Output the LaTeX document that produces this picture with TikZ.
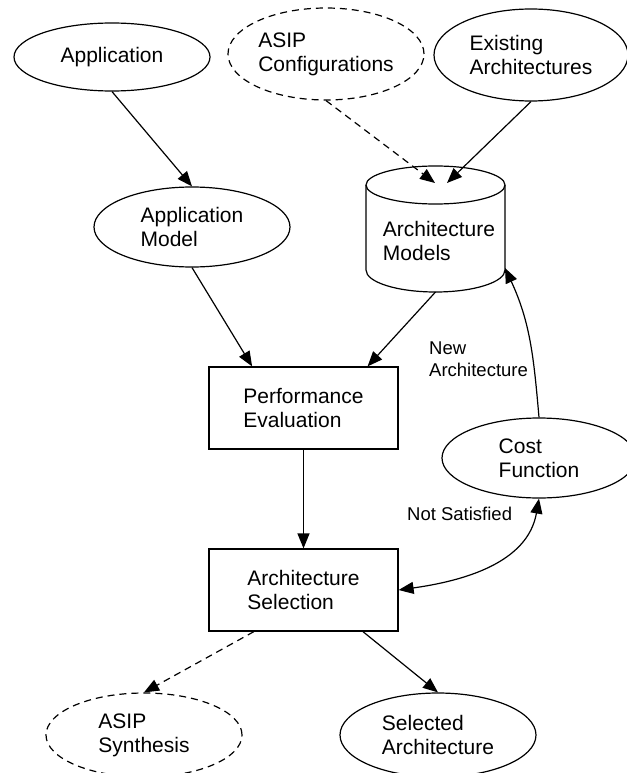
\documentclass[tikz,border=0pt]{standalone}
\usepackage{fontspec}
\setmainfont{Liberation Sans}
\usetikzlibrary{arrows.meta,shapes.geometric}
\tikzset{
  flow line/.style={draw=black, line width=1.2pt},
  flow tip/.style={-{Triangle[length=15pt,width=12pt]}},
  flow arrow/.style={flow line, flow tip},
  flow both/.style={flow line, {Triangle[length=15pt,width=12pt]}-{Triangle[length=15pt,width=12pt]}},
  flow dashed/.style={dash pattern=on 7pt off 5pt},
  flow text/.style={align=left, inner sep=0pt, font=\fontsize{21}{24}\selectfont},
  flow oval/.style={ellipse, flow line, flow text},
  flow box/.style={rectangle, flow line, flow text, minimum width=189pt, minimum height=82pt},
  flow label/.style={align=left, inner sep=0pt, font=\fontsize{18.5}{22}\selectfont},
}

\begin{document}
\begin{tikzpicture}[x=1pt, y=1pt]
  \useasboundingbox (0,0) rectangle (626,-773);

  % Inputs
  \node[flow oval, minimum width=196pt, minimum height=68pt] (app) at (112,-57) {Application};
  \node[flow oval, flow dashed, minimum width=196pt, minimum height=92pt] (asipcfg) at (326,-54) {ASIP\\Configurations};
  \node[flow oval, minimum width=194pt, minimum height=92pt] (existing) at (531,-55) {Existing\\Architectures};

  % Models
  \node[flow oval, minimum width=196pt, minimum height=80pt] (appmodel) at (192,-227) {Application\\Model};

  \draw[flow line] (435.5,-185) ellipse [x radius=69.5pt, y radius=19pt];
  \draw[flow line] (366,-185) -- (366,-270) arc[start angle=180, end angle=360, x radius=69.5pt, y radius=22pt] -- (505,-185);
  \node[flow text] (models) at (439,-241) {Architecture\\Models};
  \coordinate (modelsinA) at (435,-183);
  \coordinate (modelsinB) at (447,-183);
  \coordinate (modelsfoot) at (435.5,-292);
  \coordinate (modelscorner) at (505,-268);

  % Evaluation and selection
  \node[flow box] (perf) at (303.5,-408) {Performance\\Evaluation};
  \node[flow box] (select) at (303.5,-590) {Architecture\\Selection};
  \node[flow oval, minimum width=194pt, minimum height=80pt] (cost) at (539,-458) {Cost\\Function};

  % Outputs
  \node[flow oval, flow dashed, minimum width=196pt, minimum height=84pt] (synth) at (144,-735) {ASIP\\Synthesis};
  \node[flow oval, minimum width=196pt, minimum height=84pt] (chosen) at (438,-735) {Selected\\Architecture};

  % Connectors
  \draw[flow arrow] (app.south) -- (appmodel.north);
  \draw[flow arrow, flow dashed] (asipcfg.south) -- (modelsinA);
  \draw[flow arrow] (existing.south) -- (modelsinB);
  \draw[flow arrow] (appmodel.south) -- (perf.141);
  \draw[flow arrow] (modelsfoot) -- (perf.33);
  \draw[flow arrow] (perf.south) -- (select.north);
  \draw[flow arrow, flow dashed] (select.220) -- (synth.north);
  \draw[flow arrow] (select.-35) -- (chosen.north);
  \draw[flow arrow] (cost.north) to[out=95, in=-65] (modelscorner);
  \draw[flow both] (select.east) to[out=8, in=-100] (cost.south);

  % Loop labels
  \node[flow label, anchor=west] (newlbl) at (429,-359) {New\\Architecture};
  \node[flow label, anchor=west] (notlbl) at (407,-514) {Not Satisfied};
\end{tikzpicture}
\end{document}
